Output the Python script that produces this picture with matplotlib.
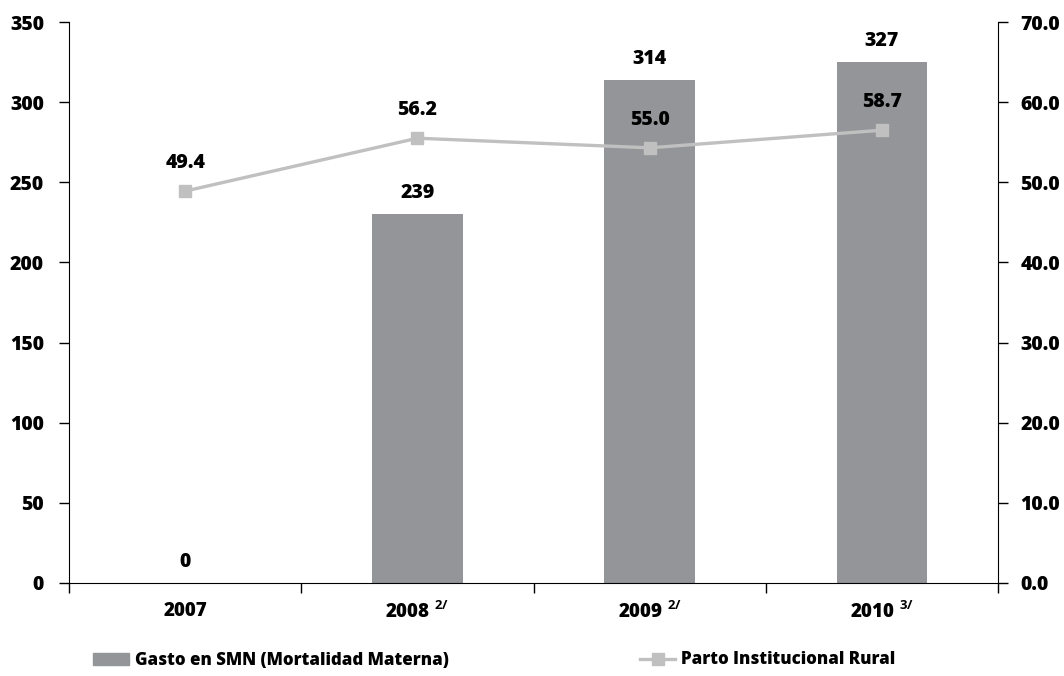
import matplotlib
matplotlib.use("Agg")
import matplotlib.pyplot as plt
from matplotlib.patches import Patch
from matplotlib.lines import Line2D

years = ["2007", "2008", "2009", "2010"]
year_notes = ["", "2/", "2/", "3/"]
gasto = [0, 230, 314, 325]
gasto_labels = ["0", "239", "314", "327"]
parto = [48.9, 55.5, 54.3, 56.5]
parto_labels = ["49.4", "56.2", "55.0", "58.7"]
left_ticks = [0, 50, 100, 150, 200, 250, 300, 350]
right_ticks = [0, 10, 20, 30, 40, 50, 60, 70]

FONT = "Open Sans"
W = "heavy"
plt.rcParams["font.family"] = [FONT, "DejaVu Sans"]
plt.rcParams["font.weight"] = W
plt.rcParams["mathtext.fontset"] = "custom"
plt.rcParams["mathtext.rm"] = FONT + ":bold"
plt.rcParams["mathtext.bf"] = FONT + ":bold"

BAR_C = "#939598"
LINE_C = "#c0c0c0"
FS = 14

fig = plt.figure(figsize=(10.64, 6.76), dpi=100)
ax = fig.add_axes([69/1064, 1-583/676, (998-69)/1064, (583-22)/676])
ax2 = ax.twinx()

x = list(range(len(years)))
ax.bar(x, gasto, width=0.39, color=BAR_C, zorder=2)
ax.set_ylim(0, 350)
ax.set_xlim(-0.5, len(years)-0.5)
ax.set_yticks(left_ticks)
ax.set_yticklabels([str(t) for t in left_ticks], fontsize=FS, fontweight=W)

# x ticks at boundaries, labels at centers
ax.set_xticks([i - 0.5 for i in range(len(years)+1)])
ax.set_xticklabels([])
ax.set_xticks(x, minor=True)
labs = []
for y, n in zip(years, year_notes):
    labs.append(y if not n else y + r" $^{" + n + "}$")
ax.set_xticklabels(labs, minor=True, fontsize=13.5, fontweight=W)
ax.tick_params(axis="x", which="minor", length=0, pad=13)
ax.tick_params(axis="x", which="major", length=7, direction="out", width=1)
ax.tick_params(axis="y", length=7, direction="out", width=1, pad=11)

ax.spines["top"].set_visible(False)
ax2.spines["top"].set_visible(False)
ax.spines["right"].set_visible(False)
ax2.spines["left"].set_visible(False)
ax2.spines["bottom"].set_visible(False)

ax2.plot(x, parto, color=LINE_C, lw=2.4, marker="s", markersize=9, zorder=3)
ax2.set_ylim(0, 70)
ax2.set_yticks(right_ticks)
ax2.set_yticklabels([f"{t:.1f}" for t in right_ticks], fontsize=FS, fontweight=W)
ax2.tick_params(axis="y", length=7, direction="out", width=1, pad=9)

for xi, v, l in zip(x, gasto, gasto_labels):
    ax.annotate(l, (xi, v), xytext=(0, 8), textcoords="offset points",
                ha="center", va="bottom", fontsize=FS, fontweight=W)
for xi, v, l in zip(x, parto, parto_labels):
    ax2.annotate(l, (xi, v), xytext=(0, 13), textcoords="offset points",
                 ha="center", va="bottom", fontsize=FS, fontweight=W)

handles = [Patch(color=BAR_C), Line2D([], [], color=LINE_C, lw=2.4, marker="s", markersize=9)]
fig.legend(handles, ["Gasto en SMN (Mortalidad Materna)", "Parto Institucional Rural"],
           loc="center left", bbox_to_anchor=(93/1064, 1-660/676), ncol=2, frameon=False,
           prop={"family": FONT, "weight": W, "size": 12.2}, columnspacing=11.3,
           handlelength=2.1, handletextpad=0.35, borderaxespad=0, borderpad=0)

fig.savefig("out.png", dpi=100)
